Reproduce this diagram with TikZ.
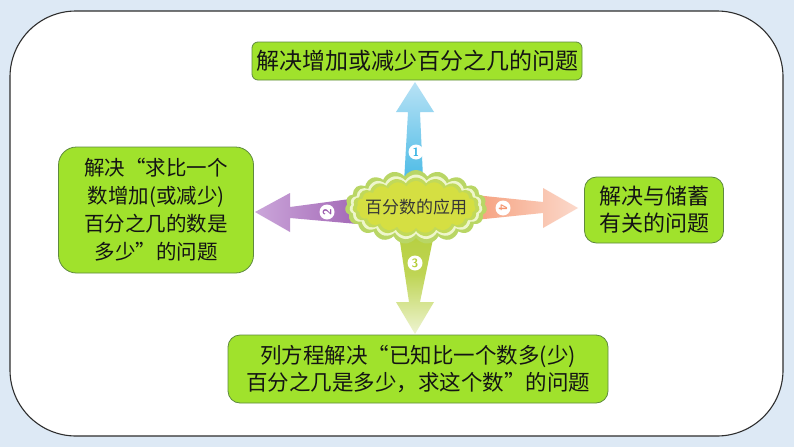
\documentclass[tikz,border=0pt]{standalone}
\usepackage{fontspec}
\newfontfamily\cjk{Noto Sans CJK SC}
\usetikzlibrary{shapes.symbols,calc}
\definecolor{bgblue}{HTML}{DDE9F5}
\definecolor{paneledge}{HTML}{2E2E2E}
\definecolor{boxgreen}{HTML}{A0E22C}
\definecolor{boxedge}{HTML}{5E8A3E}
\definecolor{textdark}{HTML}{141414}
\definecolor{upDark}{HTML}{36B3E3}
\definecolor{upLight}{HTML}{B8E2F5}
\definecolor{lfDark}{HTML}{9A5AAE}
\definecolor{lfLight}{HTML}{CBA6DA}
\definecolor{rtDark}{HTML}{F5956F}
\definecolor{rtLight}{HTML}{FBD9CB}
\definecolor{dnDark}{HTML}{B3CD36}
\definecolor{dnLight}{HTML}{EEF4D2}
\definecolor{cloudOut}{HTML}{B9D665}
\definecolor{cloudMid}{HTML}{EEF6CC}
\definecolor{cloudIn}{HTML}{D5DF42}
\begin{document}
\begin{tikzpicture}[x=1pt,y=-1pt,
  topic/.style={draw=boxedge, line width=0.8pt, fill=boxgreen, align=center,
    text=textdark, inner sep=0pt},
  numcirc/.style={circle, fill=white, inner sep=0pt, minimum size=15pt,
    font=\sffamily\bfseries\fontsize{12}{12}\selectfont},
  puff/.style={cloud, cloud puffs=19, cloud puff arc=120, aspect=2, inner sep=0pt}]
\useasboundingbox (0,0) rectangle (794,447);
\fill[bgblue] (0,0) rectangle (794,447);
\draw[paneledge, line width=1.1pt, fill=white, rounded corners=66pt] (10,11) rectangle (783,436);

% boxes
\node[topic, rounded corners=6pt, minimum width=330pt, minimum height=38pt,
  font=\cjk\fontsize{23}{28}\selectfont] (top) at (417,61) {解决增加或减少百分之几的问题};
\node[topic, rounded corners=18pt, minimum width=195pt, minimum height=126pt,
  font=\cjk\fontsize{20.5}{28}\selectfont] (left) at (156,210)
  {解决“求比一个\\数增加(或减少)\\百分之几的数是\\多少”的问题};
\node[topic, rounded corners=12pt, minimum width=139pt, minimum height=66pt,
  font=\cjk\fontsize{22}{27}\selectfont] (right) at (654,210) {解决与储蓄\\有关的问题};
\node[topic, rounded corners=12pt, minimum width=380pt, minimum height=68pt,
  font=\cjk\fontsize{21.5}{27}\selectfont] (bottom) at (418,369)
  {列方程解决“已知比一个数多(少)\\百分之几是多少，求这个数”的问题};

% hub position
\coordinate (c) at (416,207);

% up arrow (blue)
\coordinate (upTip) at (415,82);
\shade[top color=upLight, bottom color=upDark]
  (403,200) -- (424,200) -- (420,112) -- (434,112) -- (upTip) -- (396,112) -- (408,112) -- cycle;
% down arrow (yellow-green)
\coordinate (dnTip) at (415,334);
\shade[top color=dnDark, bottom color=dnLight, middle color=dnDark!80!dnLight]
  (396,215) -- (438,215) -- (420,302) -- (434,302) -- (dnTip) -- (396,302) -- (409,302) -- cycle;
% left arrow (purple)
\coordinate (lfTip) at (255,212);
\shade[left color=lfLight, right color=lfDark]
  (380,195) -- (380,226) -- (290,218) -- (290,232) -- (lfTip) -- (290,193) -- (290,207) -- cycle;
% right arrow (salmon)
\coordinate (rtTip) at (578,208);
\shade[left color=rtDark, right color=rtLight]
  (455,193) -- (455,222) -- (543,213) -- (543,228) -- (rtTip) -- (543,188) -- (543,202) -- cycle;

% numbers
\node[numcirc, text=upDark] (n1) at (416,152) {1};
\node[numcirc, text=lfDark, rotate=90] (n2) at (327,212) {2};
\node[numcirc, text=dnDark] (n3) at (415,263) {3};
\node[numcirc, text=rtDark, rotate=-90] (n4) at (503,208) {4};

% cloud hub
\node[puff, fill=cloudOut, minimum width=142pt, minimum height=74pt] (hub) at (c) {};
\node[puff, fill=cloudMid, minimum width=133pt, minimum height=65pt] (hubmid) at (c) {};
\node[puff, fill=cloudOut!70!cloudIn, minimum width=127pt, minimum height=59pt] (hubring) at (c) {};
\node[puff, fill=cloudIn, minimum width=119pt, minimum height=52pt] (hubin) at (c) {};
\node[text=textdark!85, font=\cjk\fontsize{17}{20}\selectfont] (hubtext) at (c) {百分数的应用};
\end{tikzpicture}
\end{document}
